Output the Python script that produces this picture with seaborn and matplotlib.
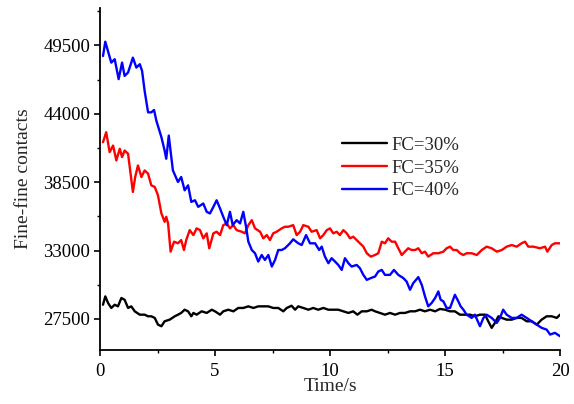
import matplotlib
matplotlib.use("Agg")
import matplotlib.pyplot as plt
from matplotlib.ticker import MultipleLocator, FixedLocator
import seaborn as sns
import pandas as pd

# ---- data ----
t_30 = [0.13, 0.23, 0.35, 0.49, 0.64, 0.78, 0.93, 1.07, 1.22, 1.36, 1.51, 1.73, 1.94, 2.09, 2.23,
        2.38, 2.52, 2.67, 2.81, 3.03, 3.25, 3.39, 3.53, 3.68, 3.83, 3.97, 4.06, 4.20, 4.42, 4.64,
        4.86, 5.00, 5.22, 5.36, 5.58, 5.80, 6.01, 6.23, 6.45, 6.67, 6.88, 7.10, 7.32, 7.53, 7.75,
        7.97, 8.12, 8.33, 8.48, 8.62, 8.84, 9.06, 9.27, 9.49, 9.71, 9.93, 10.14, 10.36, 10.58, 10.80,
        11.01, 11.19, 11.38, 11.60, 11.81, 11.96, 12.17, 12.39, 12.61, 12.83, 13.04, 13.26, 13.48,
        13.70, 13.91, 14.13, 14.35, 14.57, 14.78, 15.00, 15.22, 15.43, 15.65, 15.87, 16.09, 16.30,
        16.52, 16.74, 16.88, 17.03, 17.17, 17.32, 17.47, 17.68, 17.90, 18.12, 18.33, 18.55, 18.77,
        18.99, 19.20, 19.42, 19.64, 19.86, 20.00]
fc_30 = [28640, 29310, 28780, 28380, 28640, 28510, 29180, 29040, 28380, 28510, 28110, 27840, 27840,
         27710, 27710, 27580, 27040, 26910, 27310, 27440, 27710, 27840, 27980, 28240, 28110, 27710,
         27980, 27840, 28110, 27980, 28240, 28110, 27840, 28110, 28240, 28110, 28380, 28380, 28510,
         28380, 28510, 28510, 28510, 28380, 28380, 28110, 28380, 28560, 28240, 28510, 28380, 28240,
         28380, 28240, 28380, 28240, 28240, 28240, 28110, 27980, 28110, 27840, 28110, 28110, 28240,
         28110, 27980, 27840, 27980, 27840, 27980, 27980, 28110, 28110, 28240, 28110, 28240, 28110,
         28300, 28240, 28110, 28110, 27840, 27840, 27840, 27710, 27840, 27840, 27310, 26780, 27180,
         27710, 27580, 27440, 27440, 27580, 27580, 27310, 27310, 27040, 27440, 27710, 27710, 27580,
         27840]

t_35 = [0.13, 0.27, 0.42, 0.57, 0.71, 0.86, 0.96, 1.07, 1.22, 1.43, 1.53, 1.65, 1.80, 1.94, 2.09,
        2.23, 2.38, 2.52, 2.67, 2.81, 2.88, 2.96, 3.07, 3.22, 3.39, 3.53, 3.65, 3.75, 3.90, 4.06,
        4.20, 4.35, 4.49, 4.64, 4.75, 4.93, 5.07, 5.22, 5.36, 5.51, 5.65, 5.80, 5.94, 6.16, 6.30,
        6.45, 6.60, 6.74, 6.96, 7.10, 7.25, 7.39, 7.53, 7.68, 7.90, 8.04, 8.19, 8.40, 8.55, 8.70,
        8.84, 9.06, 9.20, 9.42, 9.57, 9.71, 9.86, 10.00, 10.14, 10.29, 10.43, 10.58, 10.73, 10.87,
        11.01, 11.23, 11.45, 11.60, 11.77, 11.96, 12.10, 12.25, 12.39, 12.53, 12.68, 12.83, 12.97,
        13.12, 13.26, 13.40, 13.55, 13.70, 13.84, 13.99, 14.13, 14.27, 14.49, 14.71, 14.93, 15.07,
        15.22, 15.36, 15.51, 15.65, 15.80, 15.94, 16.16, 16.38, 16.60, 16.81, 17.03, 17.25, 17.47,
        17.68, 17.90, 18.12, 18.33, 18.48, 18.62, 18.84, 19.13, 19.35, 19.45, 19.64, 19.78, 20.00]
fc_35 = [41710, 42510, 40910, 41440, 40240, 41180, 40510, 41040, 40780, 37710, 38910, 39840, 38910,
         39440, 39180, 38240, 38110, 37440, 35980, 35310, 35710, 35180, 32910, 33710, 33580, 33840,
         33040, 33840, 34640, 34240, 34780, 34640, 33980, 34380, 33180, 34380, 34510, 34240, 35040,
         35180, 34780, 35040, 34640, 34510, 34380, 35040, 35440, 34780, 34510, 33980, 34240, 33840,
         34380, 34510, 34780, 34910, 34910, 35040, 34240, 34510, 35040, 34910, 34510, 34640, 33980,
         34240, 34640, 34780, 34380, 34510, 34240, 34640, 34380, 33980, 34110, 33710, 33310, 32780,
         32510, 32640, 32780, 33710, 33580, 33980, 33710, 33710, 33180, 32640, 32910, 33180, 33040,
         33040, 33180, 32780, 32910, 32510, 32780, 32780, 32910, 33180, 33310, 33040, 33040, 32780,
         32640, 32780, 32780, 32640, 33040, 33310, 33180, 32910, 33040, 33310, 33440, 33310, 33580,
         33710, 33310, 33310, 33180, 33310, 32910, 33440, 33580, 33580]

t_40 = [0.13, 0.23, 0.49, 0.64, 0.81, 0.96, 1.07, 1.22, 1.43, 1.58, 1.73, 1.83, 1.94, 2.09, 2.23,
        2.35, 2.45, 2.67, 2.81, 2.88, 2.99, 3.10, 3.17, 3.39, 3.53, 3.68, 3.83, 3.97, 4.13, 4.27,
        4.49, 4.64, 4.78, 4.93, 5.07, 5.22, 5.36, 5.51, 5.65, 5.77, 5.94, 6.09, 6.23, 6.35, 6.45,
        6.60, 6.74, 6.88, 7.03, 7.17, 7.32, 7.47, 7.61, 7.75, 7.90, 8.04, 8.26, 8.40, 8.62, 8.77,
        8.96, 9.13, 9.35, 9.53, 9.64, 9.78, 9.93, 10.07, 10.22, 10.36, 10.51, 10.65, 10.80, 10.94,
        11.16, 11.30, 11.45, 11.60, 11.77, 11.96, 12.10, 12.25, 12.39, 12.61, 12.78, 12.97, 13.19,
        13.33, 13.48, 13.62, 13.84, 13.99, 14.13, 14.27, 14.42, 14.57, 14.71, 14.81, 14.93, 15.07,
        15.22, 15.43, 15.58, 15.68, 15.80, 15.94, 16.16, 16.30, 16.52, 16.67, 16.81, 17.03, 17.25,
        17.39, 17.53, 17.68, 17.90, 18.12, 18.33, 18.55, 18.77, 18.99, 19.20, 19.42, 19.57, 19.78,
        20.00]
fc_40 = [48640, 49790, 48110, 48380, 46780, 48110, 47040, 47310, 48510, 47710, 47980, 47440, 45840,
         44110, 44110, 44300, 43440, 42110, 41040, 40380, 42240, 40510, 39440, 38510, 38910, 37840,
         38240, 36910, 37040, 36510, 36780, 36110, 35980, 36510, 37040, 36380, 35710, 35040, 36110,
         35040, 35440, 35180, 36110, 34910, 33710, 33040, 32780, 32110, 32640, 32240, 32640, 31710,
         32240, 33040, 33040, 33180, 33580, 33900, 33580, 33440, 34240, 33580, 33580, 33040, 33310,
         32510, 31980, 32380, 32110, 31840, 31440, 32380, 31980, 31710, 31840, 31580, 31040, 30640,
         30780, 30910, 31310, 31440, 31040, 31040, 31440, 31040, 30780, 30510, 29840, 30380, 30860,
         30240, 29310, 28510, 28780, 29180, 29710, 29040, 28910, 28380, 28380, 29440, 28910, 28510,
         28240, 27840, 27580, 27840, 26910, 27580, 27840, 27580, 27180, 27580, 28240, 27840, 27580,
         27580, 27840, 27580, 27310, 27040, 26780, 26640, 26240, 26380, 26110]

labels = ["FC=30%", "FC=35%", "FC=40%"]
colors = ["#000000", "#ff0000", "#0000ff"]
x_ticks = [0, 5, 10, 15, 20]
y_ticks = [27500, 33000, 38500, 44000, 49500]

df = pd.concat([
    pd.DataFrame({"Time": t_30, "Contacts": fc_30, "Case": labels[0]}),
    pd.DataFrame({"Time": t_35, "Contacts": fc_35, "Case": labels[1]}),
    pd.DataFrame({"Time": t_40, "Contacts": fc_40, "Case": labels[2]}),
], ignore_index=True)

sns.set_style("ticks")
plt.rcParams["font.family"] = ["Liberation Serif", "DejaVu Serif"]

fig = plt.figure(figsize=(5.74, 4.04), dpi=100)
ax = fig.add_axes([100 / 574, 1 - 350 / 404, 460 / 574, 342 / 404])

sns.lineplot(data=df, x="Time", y="Contacts", hue="Case", hue_order=labels,
             palette=dict(zip(labels, colors)), linewidth=1.7, ax=ax,
             estimator=None, sort=False)

ax.set_xlim(0, 20)
ax.set_ylim(25000, 52500)
ax.xaxis.set_major_locator(FixedLocator(x_ticks))
ax.xaxis.set_minor_locator(MultipleLocator(2.5))
ax.yaxis.set_major_locator(FixedLocator(y_ticks))
ax.yaxis.set_minor_locator(FixedLocator([y - 2750 for y in y_ticks] + [y_ticks[-1] + 2750]))
ax.set_yticklabels([str(v) for v in y_ticks])
ax.tick_params(axis="both", which="major", labelsize=13.5, length=4, width=1.2, direction="out",
               color="black", labelcolor="black")
ax.tick_params(axis="x", which="major", pad=5)
ax.tick_params(axis="y", which="major", pad=3)
ax.tick_params(axis="both", which="minor", length=2.5, width=1.0, direction="out", color="black")
for s in ["top", "right"]:
    ax.spines[s].set_visible(False)
for s in ["left", "bottom"]:
    ax.spines[s].set_linewidth(1.3)
    ax.spines[s].set_color("black")

ax.set_xlabel("Time/s", fontsize=14, labelpad=-1)
ax.set_ylabel("Fine-fine contacts", fontsize=14, labelpad=8)

leg = ax.legend(loc="center left", bbox_to_anchor=(0.49, 0.532), frameon=False, fontsize=13.5,
                handlelength=2.4, handletextpad=0.2, labelspacing=0.3)
for h in leg.get_lines():
    h.set_linewidth(1.7)

fig.savefig("out.png", dpi=100)
